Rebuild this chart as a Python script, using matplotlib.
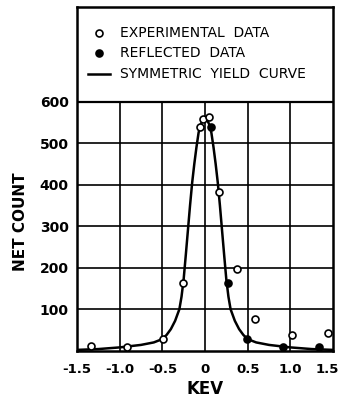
import matplotlib
matplotlib.use("Agg")
import matplotlib.pyplot as plt
from matplotlib.transforms import ScaledTranslation

# experimental data (open circles)
exp_kev = [-1.33, -0.91, -0.49, -0.26, -0.06, -0.02, 0.05, 0.16, 0.37, 0.59, 1.02, 1.44]
exp_count = [11, 10, 28, 162, 540, 559, 562, 382, 196, 76, 39, 43]

# reflected data (filled circles)
ref_kev = [0.07, 0.27, 0.49, 0.91, 1.34]
ref_count = [540, 162, 29, 8, 9]

# symmetric yield curve
curve_kev = [-1.5, -1.25, -1.0, -0.75, -0.6, -0.5, -0.45, -0.4, -0.35, -0.3, -0.275, -0.25,
             -0.225, -0.2, -0.175, -0.15, -0.125, -0.1, -0.075, -0.05, -0.025, 0.0,
             0.025, 0.05, 0.075, 0.1, 0.125, 0.15, 0.175, 0.2, 0.225, 0.25, 0.275, 0.3,
             0.35, 0.4, 0.45, 0.5, 0.6, 0.75, 1.0, 1.25, 1.5]
curve_count = [2, 4, 8, 14, 20, 28, 38, 52, 72, 100, 130, 172,
               230, 290, 350, 405, 450, 490, 525, 545, 556, 560,
               556, 545, 525, 490, 450, 405, 350, 290, 230, 172, 130, 100,
               72, 52, 38, 28, 20, 14, 8, 4, 2]

xticks = [-1.5, -1.0, -0.5, 0, 0.5, 1.0, 1.5]
xticklabels = ["-1.5", "-1.0", "-0.5", "0", "0.5", "1.0", "1.5"]
yticks = [100, 200, 300, 400, 500, 600]
labels = ["EXPERIMENTAL  DATA", "REFLECTED  DATA", "SYMMETRIC  YIELD  CURVE"]

fig = plt.figure(figsize=(3.42, 3.99), dpi=100)
ax = fig.add_axes([0.2251, 0.121, 0.7485, 0.8606])
ax.set_xlim(-1.5, 1.5)
ax.set_ylim(0, 827)

# grid only inside the data area
for x in xticks[1:-1]:
    ax.plot([x, x], [0, 600], color="black", lw=1.2, zorder=1)
for y in yticks[:-1]:
    ax.plot([-1.5, 1.5], [y, y], color="black", lw=1.2, zorder=1)
ax.axhline(600, color="black", lw=1.6, zorder=1)

ax.plot(curve_kev, curve_count, color="black", lw=1.8, zorder=2)
ax.plot(exp_kev, exp_count, "o", ms=5, mfc="white", mec="black", mew=1.2, zorder=3)
ax.plot(ref_kev, ref_count, "o", ms=5, mfc="black", mec="black", mew=1.2, zorder=3)

for s in ax.spines.values():
    s.set_linewidth(1.8)

ax.set_xticks(xticks)
ax.set_xticklabels(xticklabels, fontsize=9.5, fontweight="bold")
ax.set_yticks(yticks)
ax.set_yticklabels([str(v) for v in yticks], fontsize=10, fontweight="bold")
ax.tick_params(axis="x", length=0, pad=9)
ax.tick_params(axis="y", length=0, pad=6)
# nudge the last x label so it stays inside the figure
last = ax.get_xticklabels()[-1]
last.set_transform(last.get_transform() + ScaledTranslation(-4 / 72, 0, fig.dpi_scale_trans))

ax.set_xlabel("KEV", fontsize=12, fontweight="bold", labelpad=3)
ax.set_ylabel("NET COUNT", fontsize=11, fontweight="bold")
ax.yaxis.set_label_coords(-0.19, 0.375)

# legend drawn by hand inside the top box
tr = ax.transAxes
ax.plot([0.085], [0.925], "o", ms=5, mfc="white", mec="black", mew=1.2, transform=tr)
ax.plot([0.085], [0.866], "o", ms=5, mfc="black", mec="black", mew=1.2, transform=tr)
ax.plot([0.042, 0.128], [0.806, 0.806], color="black", lw=1.8, transform=tr)
for yy, lab in zip([0.925, 0.866, 0.806], labels):
    ax.text(0.167, yy, lab, transform=tr, fontsize=10, va="center", ha="left")

fig.savefig("out.png", dpi=100)
